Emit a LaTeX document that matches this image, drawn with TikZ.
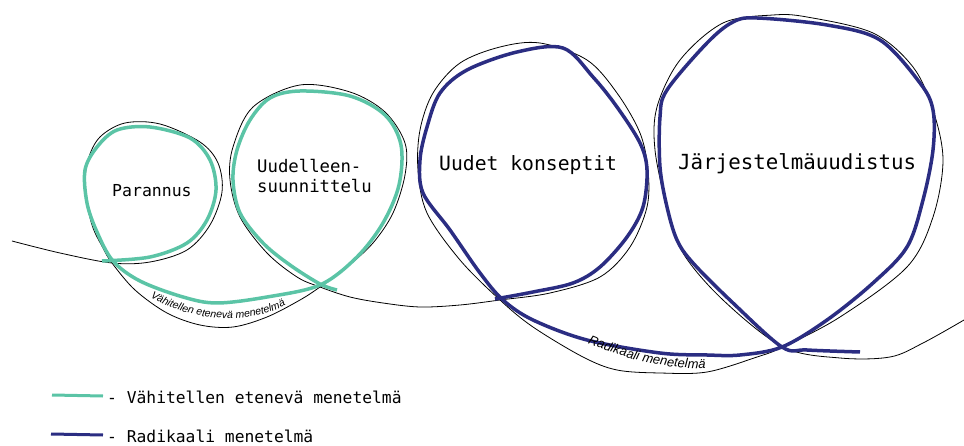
\documentclass[tikz,border=0pt]{standalone}
\usepackage{fontspec}
\setmonofont{DejaVu Sans Mono}
\newfontfamily\handfont{Liberation Sans}
\usetikzlibrary{decorations.text}
\definecolor{stepgreen}{HTML}{5BC4A6}
\definecolor{leapblue}{HTML}{2B2D82}
\tikzset{
  outline/.style={black, line width=0.8pt, line join=round},
  incremental/.style={stepgreen, line width=3.5pt, line join=round},
  radical/.style={leapblue, line width=3.5pt, line join=round},
  looplabel/.style={inner sep=0pt, anchor=base west, font=\ttfamily},
  legendtext/.style={inner sep=0pt, anchor=base west, font=\ttfamily\fontsize{16.3}{18}\selectfont},
}
\begin{document}
\begin{tikzpicture}[x=1pt, y=-1pt]
\useasboundingbox (0,0) rectangle (964,446);

% thin black outline running through all four loops
\draw[outline] plot[smooth, tension=0.55] coordinates {
  (12,241) (60,253) (112,263) (150,262) (187,250) (210,225) (222,192) (218,163)
  (200,142) (160,124) (125,123) (100,137) (88,160) (85,190) (92,225) (103,248)
  (112,263) (135,290) (167,313) (200,325) (233,327) (267,317) (300,300) (320,287)
  (347,267) (373,243) (393,213) (405,175) (405,143) (385,112) (350,92) (300,85)
  (253,107) (233,147) (230,180) (240,217) (267,253) (297,277) (320,287) (350,297)
  (383,303) (420,307) (460,305) (500,300) (550,293) (600,277) (630,247) (647,207)
  (648,170) (640,133) (617,93) (587,60) (540,43) (500,47) (460,63) (433,93)
  (420,130) (418,170) (427,213) (460,260) (500,300) (533,327) (583,357) (617,370)
  (660,373) (707,372) (757,357) (783,347) (840,317) (907,267) (933,217) (943,160)
  (933,110) (913,67) (873,33) (807,17) (773,15) (723,23) (680,60) (657,107)
  (655,150) (667,207) (683,253) (723,300) (783,347) (840,358) (890,357) (923,343)
  (964,320)};

% incremental path: two small loops
\draw[incremental] plot[smooth, tension=0.55] coordinates {
  (102,261) (150,257) (187,243) (207,220) (216,190) (210,160) (190,138) (150,127)
  (117,130) (97,147) (85,170) (87,203) (97,232) (113,261) (140,281) (183,297)
  (217,303) (267,297) (320,285) (357,257) (383,223) (399,185) (401,145) (385,115)
  (350,96) (300,91) (270,98) (250,120) (237,150) (233,180) (240,213) (263,243)
  (290,265) (320,284) (337,290)};

% radical path: two large loops
\draw[radical] plot[smooth, tension=0.55] coordinates {
  (495,299) (533,292) (573,283) (600,267) (627,237) (643,207) (647,170) (640,143)
  (617,107) (593,77) (563,48) (517,52) (467,70) (440,93) (427,127) (420,160)
  (423,193) (450,230) (480,273) (503,300) (533,320) (587,340) (660,353) (707,355)
  (740,355) (782,347) (827,320) (873,283) (907,247) (923,200) (933,150) (933,110)
  (920,83) (880,40) (827,25) (757,18) (733,22) (707,43) (667,90) (660,117)
  (660,167) (667,207) (677,240) (693,263) (733,303) (782,347) (807,350) (860,352)};

% labels written along the lower arcs
\coordinate (va) at (145,294);
\coordinate (vb) at (291,302);
\coordinate (ra) at (580,340);
\coordinate (rb) at (714,368);
\path[decorate, decoration={text along path, text align=center,
  text={|\handfont\itshape\fontsize{10.5}{11}\selectfont|Vähitellen etenevä menetelmä}}]
  (va) .. controls (190,323) and (252,327) .. (vb);
\path[decorate, decoration={text along path, text align=center,
  text={|\handfont\itshape\fontsize{13}{13}\selectfont|Radikaali menetelmä}}]
  (ra) .. controls (630,362) and (670,370) .. (rb);

% loop titles
\node[looplabel, font=\ttfamily\fontsize{16.5}{18}\selectfont] (parannus) at (112,197) {Parannus};
\node[looplabel, font=\ttfamily\fontsize{17.3}{20}\selectfont] (uud1) at (257,173) {Uudelleen-};
\node[looplabel, font=\ttfamily\fontsize{17.3}{20}\selectfont] (uud2) at (257,193) {suunnittelu};
\node[looplabel, font=\ttfamily\fontsize{19.7}{22}\selectfont] (konseptit) at (439,171) {Uudet konseptit};
\node[looplabel, font=\ttfamily\fontsize{20.8}{23}\selectfont] (jarjestelma) at (678,170) {Järjestelmäuudistus};

% legend
\coordinate (lg1a) at (52,395);
\coordinate (lg1b) at (103,396);
\coordinate (lg2a) at (51,434);
\coordinate (lg2b) at (103,435);
\draw[stepgreen, line width=3pt] (lg1a) -- (lg1b);
\draw[leapblue, line width=3pt] (lg2a) -- (lg2b);
\node[legendtext] (leg1) at (107,403) {- Vähitellen etenevä menetelmä};
\node[legendtext] (leg2) at (107,442) {- Radikaali menetelmä};
\end{tikzpicture}
\end{document}
